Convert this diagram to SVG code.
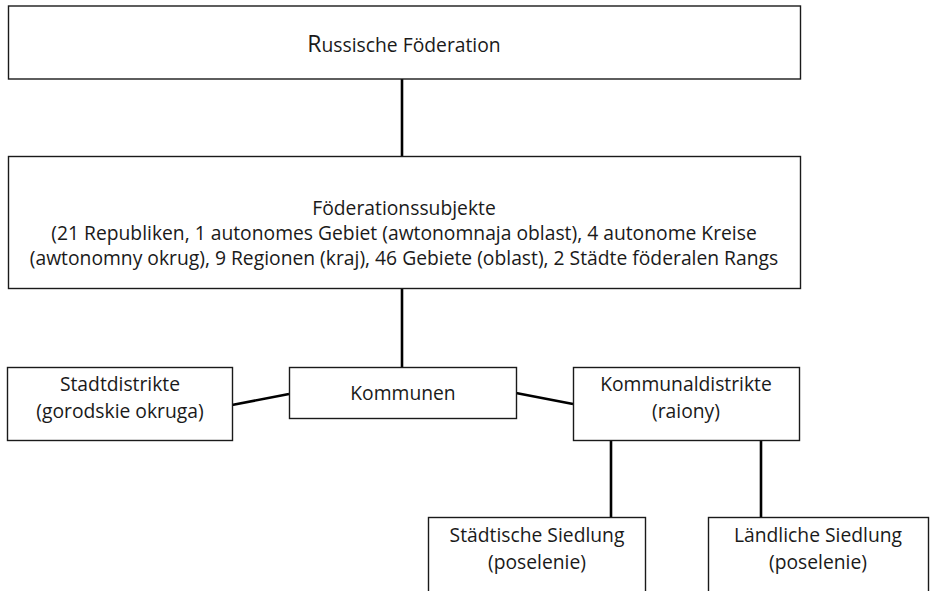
<svg xmlns="http://www.w3.org/2000/svg" width="941" height="591" viewBox="0 0 941 591">
<style>
.box{fill:#fff;stroke:#1a1a1a;stroke-width:1.4}
.t{font-family:"Open Sans","DejaVu Sans",sans-serif;font-size:19.3px;fill:#1a1a1a;text-anchor:middle}
.c{stroke:#000;stroke-width:2.6;fill:none}
</style>
<rect width="941" height="591" fill="#fff"/>
<g id="connectors">
<line class="c" x1="402" y1="79" x2="402" y2="156"/>
<line class="c" x1="402" y1="289" x2="402" y2="367"/>
<line class="c" x1="232" y1="405" x2="289" y2="394"/>
<line class="c" x1="516" y1="393" x2="573" y2="404"/>
<line class="c" x1="611" y1="441" x2="611" y2="517"/>
<line class="c" x1="761" y1="441" x2="761" y2="517"/>
</g>
<g id="russ">
<rect class="box" x="8.5" y="6" width="792" height="73"/>
<text class="t" x="404" y="52"><tspan font-size="23">R</tspan>ussische Föderation</text>
</g>
<g id="subjekte">
<rect class="box" x="8.5" y="156.5" width="792" height="132"/>
<text class="t" x="404" y="215">Föderationssubjekte</text>
<text class="t" x="404" y="240">(21 Republiken, 1 autonomes Gebiet (awtonomnaja oblast), 4 autonome Kreise</text>
<text class="t" x="404" y="265">(awtonomny okrug), 9 Regionen (kraj), 46 Gebiete (oblast), 2 Städte föderalen Rangs</text>
</g>
<g id="stadt">
<rect class="box" x="7.5" y="367.5" width="225" height="73"/>
<text class="t" x="120" y="391">Stadtdistrikte</text>
<text class="t" x="120" y="418">(gorodskie okruga)</text>
</g>
<g id="kommunen">
<rect class="box" x="289.5" y="367.5" width="227" height="51"/>
<text class="t" x="403" y="400">Kommunen</text>
</g>
<g id="kommunal">
<rect class="box" x="573.5" y="367.5" width="226" height="73"/>
<text class="t" x="686" y="391">Kommunaldistrikte</text>
<text class="t" x="686" y="418">(raiony)</text>
</g>
<g id="staedtisch">
<rect class="box" x="428.5" y="517.5" width="217" height="90"/>
<text class="t" x="537" y="542">Städtische Siedlung</text>
<text class="t" x="537" y="569">(poselenie)</text>
</g>
<g id="laendlich">
<rect class="box" x="708.5" y="517.5" width="220" height="90"/>
<text class="t" x="818" y="542">Ländliche Siedlung</text>
<text class="t" x="818" y="569">(poselenie)</text>
</g>
</svg>
